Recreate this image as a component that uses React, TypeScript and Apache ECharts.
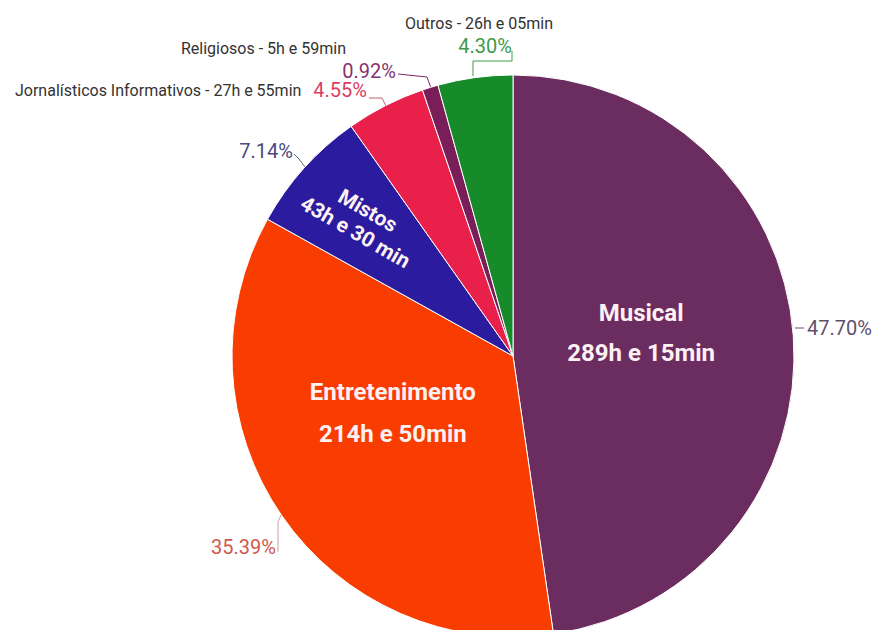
import React, { useEffect, useRef } from 'react';
import * as echarts from 'echarts';

const categories = ['Musical', 'Entretenimento', 'Mistos', 'Jornalísticos Informativos', 'Religiosos', 'Outros'];
const durations = ['289h e 15min', '214h e 50min', '43h e 30 min', '27h e 55min', '5h e 59min', '26h e 05min'];
const percentages = [47.7, 35.39, 7.14, 4.55, 0.92, 4.3];

const sliceColors = ['#6b2c5f', '#f93c00', '#2b1b9e', '#e8204a', '#7a1e5a', '#178a2a'];
const percentColors = ['#62506a', '#d0584e', '#4a4a7e', '#dd3d62', '#85346f', '#3d9a4c'];
const lineColors = ['#7a4a70', '#c9a0a8', '#606080', '#c06070', '#7a2a62', '#3d9a4c'];

// label placement (layout only)
const outsideLayout: any[] = [
  { x: 807, y: 328, align: 'left', verticalAlign: 'middle', pts: [[795, 328], [800, 328], [804, 328]] },
  { x: 276, y: 547, align: 'right', verticalAlign: 'middle', pts: [[281, 515], [278, 522], [278, 552]] },
  { x: 293, y: 151, align: 'right', verticalAlign: 'middle', pts: [[305, 167], [299, 159], [294, 154]] },
  { x: 367, y: 90, align: 'right', verticalAlign: 'middle', pts: [[386, 106], [382, 98], [369, 98]] },
  { x: 396, y: 36.5, align: 'right', verticalAlign: 'top', pts: [[431, 88], [427, 77], [398, 74]] },
  { x: 553, y: 11.5, align: 'right', verticalAlign: 'top', pts: [[473, 76], [473, 61], [512, 61], [512, 51]] },
];
const insideOffsets = [
  [-15, -13],
  [-2, -24],
  [-58, -11],
];

const FONT = 'Roboto, "Noto Sans", sans-serif';

export default function App() {
  const ref = useRef<HTMLDivElement>(null);
  useEffect(() => {
    document.body.style.margin = '0';
    if (!ref.current) return;
    const chart = echarts.init(ref.current, null, { renderer: 'svg' });

    const outerData = categories.map((name, i) => {
      const pct = percentages[i].toFixed(2) + '%';
      let formatter = `{p|${pct}}`;
      const rich: any = {
        p: { fontSize: 20, color: percentColors[i], fontFamily: FONT, lineHeight: 22 },
        n: { fontSize: 16, color: '#333333', fontFamily: FONT, lineHeight: 23 },
      };
      if (i === 3) {
        formatter = `{n|${name} - ${durations[i]}}{p|${pct}}`;
        rich.n.padding = [0, 12, 0, 0];
      } else if (i === 4) {
        formatter = `{n|${name} - ${durations[i]}}\n{p|${pct}}`;
        rich.n.padding = [0, 50, 0, 0];
      } else if (i === 5) {
        formatter = `{n|${name} - ${durations[i]}}\n{p|${pct}}`;
        rich.p.padding = [0, 41, 0, 0];
      }
      return {
        name,
        value: percentages[i],
        itemStyle: { color: sliceColors[i] },
        label: { formatter, rich, color: percentColors[i] },
        labelLine: { lineStyle: { color: lineColors[i], width: 1 } },
      };
    });

    const innerData = categories.map((name, i) => {
      let label: any = { show: false };
      if (i === 0 || i === 1) {
        label = {
          show: true,
          formatter: `{a|${name}}\n{a|${durations[i]}}`,
          rich: {
            a: { fontSize: 24, fontWeight: 'bold', color: '#fdf1f4', fontFamily: FONT, lineHeight: i === 0 ? 40 : 42, align: 'center' },
          },
        };
      } else if (i === 2) {
        label = {
          show: true,
          rotate: -30,
          formatter: `{m|${name}}\n{m|${durations[i]}}`,
          rich: {
            m: { fontSize: 21, fontWeight: 'bold', color: '#fdf1f4', fontFamily: FONT, lineHeight: 25, align: 'center' },
          },
        };
      }
      return { name, value: percentages[i], label };
    });

    chart.setOption({
      animation: false,
      series: [
        {
          type: 'pie',
          center: [513, 356],
          radius: 281,
          startAngle: 90,
          clockwise: true,
          avoidLabelOverlap: false,
          itemStyle: { borderColor: '#ffffff', borderWidth: 1 },
          label: { show: true, position: 'outside', fontFamily: FONT },
          labelLine: { show: true, length: 10, length2: 10, smooth: false },
          labelLayout: (params: any) => {
            const c = outsideLayout[params.dataIndex];
            return {
              x: c.x,
              y: c.y,
              align: c.align,
              verticalAlign: c.verticalAlign,
              labelLinePoints: c.pts,
            };
          },
          data: outerData,
        },
        {
          type: 'pie',
          center: [513, 356],
          radius: 281,
          startAngle: 90,
          clockwise: true,
          silent: true,
          avoidLabelOverlap: false,
          itemStyle: { color: 'rgba(0,0,0,0)', borderWidth: 0 },
          label: { position: 'inside' },
          labelLine: { show: false },
          labelLayout: (params: any) => {
            const o = insideOffsets[params.dataIndex];
            if (!o) return {};
            return { dx: o[0], dy: o[1] };
          },
          data: innerData,
        },
      ],
    });
    return () => chart.dispose();
  }, []);
  return <div ref={ref} style={{ width: 878, height: 630 }} />;
}
